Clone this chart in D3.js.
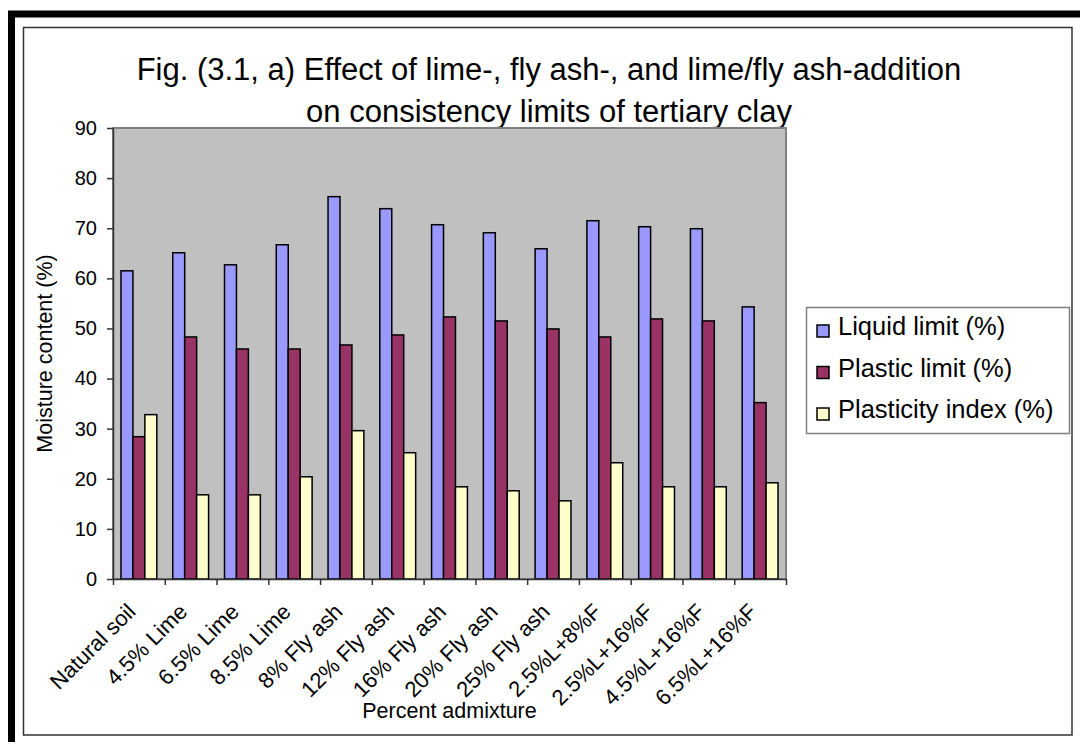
<!DOCTYPE html>
<html>
<head>
<meta charset="utf-8">
<script src="https://cdn.jsdelivr.net/npm/d3@7"></script>
<style>
  body { margin: 0; background: #fff; }
  svg { display: block; font-family: "Liberation Sans", Arial, sans-serif; }
  .axis path, .axis line { stroke: #333; stroke-width: 1.5; }
  .axis text { font-size: 20px; fill: #000; }
  .xlab text { font-size: 22px; }
</style>
</head>
<body>
<svg id="chart" width="1080" height="742"></svg>
<script>
const categories = ["Natural soil", "4.5% Lime", "6.5% Lime", "8.5% Lime", "8% Fly ash",
  "12% Fly ash", "16% Fly ash", "20% Fly ash", "25% Fly ash", "2.5%L+8%F",
  "2.5%L+16%F", "4.5%L+16%F", "6.5%L+16%F"];
const seriesNames = ["Liquid limit (%)", "Plastic limit (%)", "Plasticity index (%)"];
const liquidLimit = [61.5, 65.1, 62.7, 66.7, 76.3, 73.9, 70.7, 69.1, 65.9, 71.5, 70.3, 69.9, 54.3];
const plasticLimit = [28.4, 48.3, 45.9, 45.9, 46.7, 48.7, 52.3, 51.5, 49.9, 48.3, 51.9, 51.5, 35.2];
const plasticityIndex = [32.8, 16.8, 16.8, 20.4, 29.6, 25.2, 18.4, 17.6, 15.6, 23.2, 18.4, 18.4, 19.2];
const yTicks = [0, 10, 20, 30, 40, 50, 60, 70, 80, 90];
const colors = ["#9999FF", "#993366", "#FFFFCC"];

const series = [liquidLimit, plasticLimit, plasticityIndex];
const rows = categories.map((c, i) => ({cat: c, vals: series.map(s => s[i])}));

const svg = d3.select("#chart");
const plot = {left: 113, top: 128, right: 786, bottom: 579};

// frames
svg.append("rect").attr("x", 11.5).attr("y", 14).attr("width", 1090).attr("height", 760)
  .attr("fill", "none").attr("stroke", "#000").attr("stroke-width", 7);
svg.append("rect").attr("x", 23.5).attr("y", 27.5).attr("width", 1048.5).attr("height", 707.5)
  .attr("fill", "none").attr("stroke", "#333").attr("stroke-width", 1.5);

// title
const title = svg.append("text").attr("text-anchor", "middle").style("font-size", "31px");
title.append("tspan").attr("x", 549).attr("y", 80)
  .text("Fig. (3.1, a) Effect of lime-, fly ash-, and lime/fly ash-addition");
title.append("tspan").attr("x", 549).attr("y", 122)
  .text("on consistency limits of tertiary clay");

const x0 = d3.scaleBand().domain(categories).range([plot.left, plot.right]).padding(0);
const x1 = d3.scaleBand().domain(d3.range(3)).range([0, x0.bandwidth()])
  .paddingInner(0).paddingOuter(0.667);
const y = d3.scaleLinear().domain([0, 90]).range([plot.bottom, plot.top]);
const xi = d3.scaleLinear().domain([0, categories.length]).range([plot.left, plot.right]);

// plot area
svg.append("rect").attr("x", plot.left).attr("y", plot.top)
  .attr("width", plot.right - plot.left).attr("height", plot.bottom - plot.top)
  .attr("fill", "#C0C0C0").attr("stroke", "#808080").attr("stroke-width", 2);

// bars
svg.append("g").selectAll("g")
  .data(rows)
  .join("g")
  .attr("transform", d => `translate(${x0(d.cat)},0)`)
  .selectAll("rect")
  .data(d => d.vals.map((v, k) => ({k, v})))
  .join("rect")
  .attr("x", d => x1(d.k))
  .attr("width", x1.bandwidth())
  .attr("y", d => y(d.v))
  .attr("height", d => y(0) - y(d.v))
  .attr("fill", d => colors[d.k])
  .attr("stroke", "#000").attr("stroke-width", 1.5);

// y axis
svg.append("g").attr("class", "axis")
  .attr("transform", `translate(${plot.left},0)`)
  .call(d3.axisLeft(y).tickValues(yTicks).tickSize(6).tickPadding(10).tickSizeOuter(0));

// x axis: boundary ticks
svg.append("g").attr("class", "axis")
  .attr("transform", `translate(0,${plot.bottom})`)
  .call(d3.axisBottom(xi).tickValues(d3.range(categories.length + 1)).tickSize(6)
    .tickFormat("").tickSizeOuter(0));

// x axis labels
const xl = svg.append("g").attr("class", "axis xlab")
  .attr("transform", `translate(0,${plot.bottom})`)
  .call(d3.axisBottom(x0).tickSize(0));
xl.select(".domain").remove();
xl.selectAll("text")
  .attr("x", 0).attr("y", 0).attr("dy", 0)
  .attr("text-anchor", "end")
  .attr("transform", "translate(-2,34) rotate(-45)");

// axis titles
svg.append("text").attr("x", (plot.left + plot.right) / 2).attr("y", 718)
  .attr("text-anchor", "middle").style("font-size", "21.5px").text("Percent admixture");
svg.append("text").attr("transform", `translate(52,${(plot.top + plot.bottom) / 2}) rotate(-90)`)
  .attr("text-anchor", "middle").style("font-size", "21.5px").text("Moisture content (%)");

// legend
svg.append("rect").attr("x", 806.5).attr("y", 307.5).attr("width", 263).attr("height", 126)
  .attr("fill", "#fff").attr("stroke", "#808080").attr("stroke-width", 1.5);
seriesNames.forEach((name, i) => {
  const g = svg.append("g").attr("transform", `translate(817,${335 + i * 41.5})`);
  g.append("rect").attr("x", 0).attr("y", -10).attr("width", 12).attr("height", 12)
    .attr("fill", colors[i]).attr("stroke", "#000").attr("stroke-width", 1.5);
  g.append("text").attr("x", 21).attr("y", 0).style("font-size", "25.5px").text(name);
});
</script>
</body>
</html>
